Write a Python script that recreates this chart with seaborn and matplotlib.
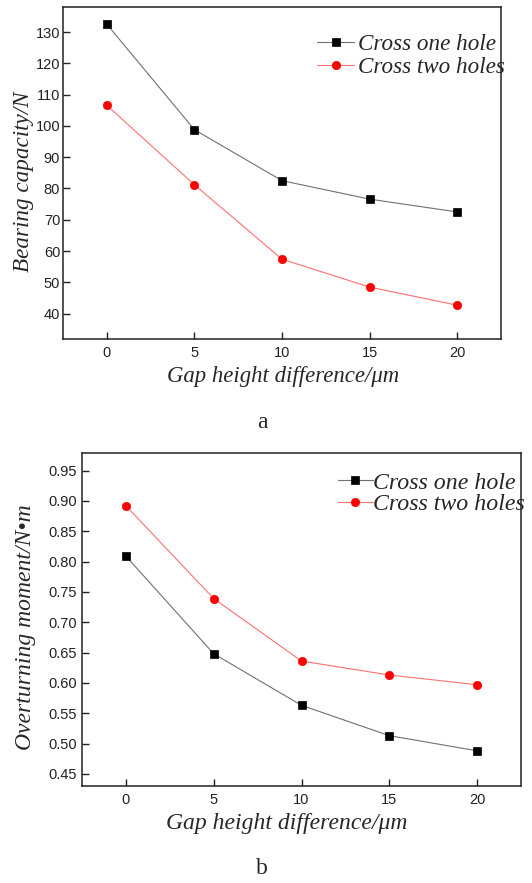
import matplotlib
matplotlib.use("Agg")
import matplotlib.pyplot as plt
import seaborn as sns
import pandas as pd

# ---- data ----
gap = [0, 5, 10, 15, 20]
bearing_one = [132.5, 98.8, 82.5, 76.6, 72.5]
bearing_two = [106.6, 81.2, 57.4, 48.5, 42.7]
moment_one = [0.809, 0.648, 0.563, 0.513, 0.488]
moment_two = [0.892, 0.739, 0.636, 0.613, 0.597]
series_names = ["Cross one hole", "Cross two holes"]
bearing_yticks = [40, 50, 60, 70, 80, 90, 100, 110, 120, 130]
moment_yticks = [0.45, 0.50, 0.55, 0.60, 0.65, 0.70, 0.75, 0.80, 0.85, 0.90, 0.95]
xticks = [0, 5, 10, 15, 20]

sns.set_style("ticks")
plt.rcParams["font.family"] = ["Liberation Sans", "DejaVu Sans"]

W, H = 532, 883
fig = plt.figure(figsize=(W / 100, H / 100), dpi=100)

def px_axes(l, t, r, b):
    return fig.add_axes([l / W, (H - b) / H, (r - l) / W, (b - t) / H])

ax1 = px_axes(63, 7, 501, 339)
ax2 = px_axes(82, 453, 521, 786)

serif_it = dict(family=["Liberation Serif", "DejaVu Serif"], style="italic")

def draw(ax, one, two, yticks, ylim, fmt, ypad):
    df = pd.DataFrame({"gap": gap, "one": one, "two": two})
    sns.lineplot(data=df, x="gap", y="one", ax=ax, color="#707070", lw=0.8,
                 marker="s", markersize=5.5, markerfacecolor="black",
                 markeredgecolor="black", markeredgewidth=0.5, label=series_names[0])
    sns.lineplot(data=df, x="gap", y="two", ax=ax, color="#ff7070", lw=0.8,
                 marker="o", markersize=6, markerfacecolor="#ff0000",
                 markeredgecolor="#ff0000", markeredgewidth=0.5, label=series_names[1])
    ax.set_xlim(-2.5, 22.5)
    ax.set_ylim(*ylim)
    ax.set_xticks(xticks)
    ax.set_yticks(yticks)
    ax.set_yticklabels([fmt.format(v) for v in yticks])
    for s in ax.spines.values():
        s.set_visible(True)
        s.set_color("#222222")
        s.set_linewidth(1.1)
    ax.tick_params(axis="both", direction="in", length=5, width=1.0, color="#222222",
                   labelsize=10.5, labelcolor="#222222")
    ax.tick_params(axis="y", pad=ypad)
    ax.tick_params(axis="x", pad=5)
    ax.tick_params(top=False, right=False)

draw(ax1, bearing_one, bearing_two, bearing_yticks, (31.9, 138.0), "{:d}", 2)
draw(ax2, moment_one, moment_two, moment_yticks, (0.430, 0.979), "{:.2f}", 3.5)

ax1.set_xlabel("Gap height difference/μm", fontsize=16.4, **serif_it)
ax1.set_ylabel("Bearing capacity/N", fontsize=16.7, **serif_it)
ax2.set_xlabel("Gap height difference/μm", fontsize=17, **serif_it)
ax2.set_ylabel("Overturning moment/N•m", fontsize=17, **serif_it)

ax1.xaxis.set_label_coords(0.502, -0.081)
ax1.yaxis.set_label_coords(-0.066, 0.473)
ax2.xaxis.set_label_coords(0.467, -0.081)
ax2.yaxis.set_label_coords(-0.105, 0.478)

leg_font1 = {"family": "Liberation Serif", "style": "italic", "size": 16.7}
leg_font2 = {"family": "Liberation Serif", "style": "italic", "size": 17.2}
ax1.legend(loc="upper left", bbox_to_anchor=(317 / W, (H - 34) / H),
           bbox_transform=fig.transFigure, frameon=False, borderpad=0,
           handlelength=1.6, handletextpad=0.15, labelspacing=0.05, prop=leg_font1,
           borderaxespad=0)
ax2.legend(loc="upper left", bbox_to_anchor=(338 / W, (H - 472) / H),
           bbox_transform=fig.transFigure, frameon=False, borderpad=0,
           handlelength=1.45, handletextpad=0.02, labelspacing=0.0, prop=leg_font2,
           borderaxespad=0)

fig.text(262 / W, (H - 422) / H, "a", ha="center", va="center", fontsize=17,
         family=["Liberation Serif", "DejaVu Serif"])
fig.text(262 / W, (H - 869) / H, "b", ha="center", va="center", fontsize=17,
         family=["Liberation Serif", "DejaVu Serif"])

fig.savefig("out.png", dpi=100)
